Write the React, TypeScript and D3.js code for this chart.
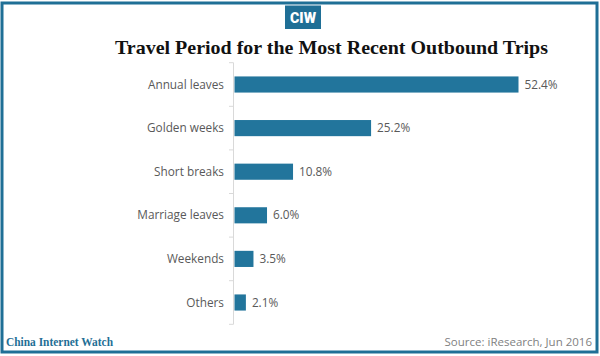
import React from "react";
import * as d3 from "d3";

const categories = ["Annual leaves", "Golden weeks", "Short breaks", "Marriage leaves", "Weekends", "Others"];
const values = [52.4, 25.2, 10.8, 6.0, 3.5, 2.1];
const valueLabels = ["52.4%", "25.2%", "10.8%", "6.0%", "3.5%", "2.1%"];
const title = "Travel Period for the Most Recent Outbound Trips";
const brand = "China Internet Watch";
const source = "Source: iResearch, Jun 2016";

const W = 600;
const H = 356;
const TEAL = "#1f6f96";
const BAR = "#22759c";

export default function App() {
  const x = d3.scaleLinear().domain([0, 52.4]).range([234.5, 518.5]);
  const y = d3.scaleBand<string>().domain(categories).range([62.7, 324.3]).paddingInner(0.63).paddingOuter(0.315);
  const step = y.step();
  const y0 = 62.7;
  const ticks = d3.range(categories.length + 1).map((i) => y0 + i * step);

  return (
    <svg width={W} height={H} style={{ position: "absolute", left: 0, top: 0, display: "block" }}>
      <rect x={0} y={0} width={W} height={H} fill="#fff" />
      <rect x={2} y={3} width={595} height={349} fill="none" stroke={TEAL} strokeWidth={3} />
      <rect x={285} y={5.5} width={36} height={23.5} fill={TEAL} />
      <text x={303} y={23} textAnchor="middle" fill="#fff" fontFamily="Roboto, 'Liberation Sans', sans-serif" fontWeight={900} fontSize={15} textLength={26} lengthAdjust="spacingAndGlyphs">CIW</text>
      <text x={331.5} y={53.5} textAnchor="middle" fill="#111" fontFamily="'Liberation Serif', Georgia, serif" fontWeight="bold" fontSize={19.5} textLength={433} lengthAdjust="spacingAndGlyphs">{title}</text>

      <line x1={233.5} x2={233.5} y1={y0} y2={y0 + categories.length * step} stroke="#d9d9d9" strokeWidth={1} />
      {ticks.map((t, i) => (
        <line key={i} x1={229} x2={233.5} y1={t} y2={t} stroke="#d9d9d9" strokeWidth={1} />
      ))}
      {categories.map((c, i) => {
        const by = y(c)!;
        const bh = y.bandwidth();
        return (
          <g key={c}>
            <rect x={x(0)} y={by} width={x(values[i]) - x(0)} height={bh} fill={BAR} />
            <text x={224} y={by + bh / 2} dy="0.35em" textAnchor="end" fill="#595959" fontFamily="'Open Sans', sans-serif" fontSize={11.8}>{c}</text>
            <text x={x(values[i]) + 6} y={by + bh / 2} dy="0.35em" fill="#595959" fontFamily="'Open Sans', sans-serif" fontSize={11.8}>{valueLabels[i]}</text>
          </g>
        );
      })}

      <text x={6} y={346} fill={TEAL} fontFamily="'Liberation Serif', Georgia, serif" fontWeight="bold" fontSize={13} textLength={107} lengthAdjust="spacingAndGlyphs">{brand}</text>
      <text x={592} y={346} textAnchor="end" fill="#7f7f7f" fontFamily="'Open Sans', sans-serif" fontSize={11.5}>{source}</text>
    </svg>
  );
}
